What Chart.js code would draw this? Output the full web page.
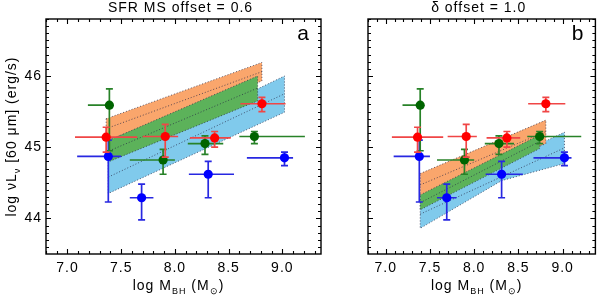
<!DOCTYPE html>
<html><head><meta charset="utf-8">
<script src="https://cdn.jsdelivr.net/npm/chart.js@4/dist/chart.umd.min.js"></script>
<style>
html,body{margin:0;padding:0;background:#fff;width:600px;height:296px;overflow:hidden}
canvas{position:absolute;top:0}
#ca{left:0}
#cb{left:300px}
</style></head><body>
<canvas id="ca" width="330" height="296"></canvas>
<canvas id="cb" width="300" height="296"></canvas>
<script>
// ---------------- data ----------------
const panelTitles = ['SFR MS offset = 0.6', 'δ offset = 1.0'];
const panelLetters = ['a', 'b'];
const xTicks = [7.0, 7.5, 8.0, 8.5, 9.0];
const yTicks = [44, 45, 46];

const redX    = [7.36, 7.91, 8.37, 8.81];
const redXmin = [7.07, 7.70, 8.14, 8.61];
const redXmax = [7.65, 8.03, 8.52, 9.03];
const redY    = [45.14, 45.15, 45.13, 45.61];
const redYmin = [44.93, 44.86, 45.00, 45.50];
const redYmax = [45.28, 45.32, 45.22, 45.70];

const greenX    = [7.39, 7.89, 8.28, 8.74];
const greenXmin = [7.19, 7.58, 8.12, 8.60];
const greenXmax = [7.42, 8.00, 8.45, 9.21];
const greenY    = [45.59, 44.82, 45.05, 45.15];
const greenYmin = [44.95, 44.62, 44.90, 45.05];
const greenYmax = [45.82, 44.97, 45.16, 45.22];

const blueX    = [7.38, 7.69, 8.31, 9.02];
const blueXmin = [7.09, 7.58, 8.13, 8.67];
const blueXmax = [7.50, 7.80, 8.55, 9.10];
const blueY    = [44.87, 44.29, 44.62, 44.85];
const blueYmin = [44.23, 43.98, 44.29, 44.74];
const blueYmax = [45.10, 44.48, 44.80, 44.93];

// panel a bands
const aOrangeUX = [7.36, 8.81], aOrangeUY = [45.40, 46.19];
const aOrangeLX = [7.36, 8.81], aOrangeLY = [45.09, 45.93];
const aOrangeMY = [45.26, 46.06];
const aGreenUX = [7.39, 8.77], aGreenUY = [45.10, 46.00];
const aGreenLX = [7.39, 8.77], aGreenLY = [44.80, 45.65];
const aGreenMY = [44.95, 45.83];
const aBlueUX = [7.38, 9.02], aBlueUY = [44.81, 46.00];
const aBlueLX = [7.38, 9.02], aBlueLY = [44.35, 45.49];
const aBlueMY = [44.58, 45.75];

// panel b bands
const bOrangeUX = [7.39, 8.81], bOrangeUY = [44.63, 45.38];
const bOrangeLX = [7.39, 8.81], bOrangeLY = [44.30, 45.05];
const bOrangeMY = [44.47, 45.22];
const bGreenUX = [7.39, 8.74], bGreenUY = [44.33, 45.17];
const bGreenLX = [7.39, 8.74], bGreenLY = [44.12, 44.98];
const bGreenMY = [44.22, 45.08];
const bBlueUX = [7.39, 9.02], bBlueUY = [44.26, 45.21];
const bBlueLX = [7.39, 8.31, 9.02], bBlueLY = [43.86, 44.53, 44.77];
const bBlueMY = [44.06, 44.99];

// ---------------- styling / building ----------------
const FONT = "'Liberation Sans', Arial, Helvetica, sans-serif";
const BAND_EDGE = 'rgba(40,40,70,0.75)';

function poly(ux, uy, lx, ly) {
  const pts = [];
  for (let i = 0; i < ux.length; i++) pts.push({x: ux[i], y: uy[i]});
  for (let i = lx.length - 1; i >= 0; i--) pts.push({x: lx[i], y: ly[i]});
  pts.push({x: ux[0], y: uy[0]});
  return pts;
}
function mid(ux, my) {
  return [{x: ux[0], y: my[0]}, {x: ux[ux.length - 1], y: my[my.length - 1]}];
}
function pts(xs, ys) { return xs.map((x, i) => ({x, y: ys[i]})); }

function bandDs(data, color, order) {
  return {type: 'line', data, order, fill: 'shape', backgroundColor: color,
    borderColor: BAND_EDGE, borderWidth: 1, borderDash: [1, 2], pointRadius: 0, tension: 0};
}
function midDs(data, order) {
  return {type: 'line', data, order, fill: false, borderColor: BAND_EDGE,
    borderWidth: 1, borderDash: [1, 2], pointRadius: 0, tension: 0};
}

const groups = {
  red:   {x: redX, xmin: redXmin, xmax: redXmax, y: redY, ymin: redYmin, ymax: redYmax, bar: 'rgb(240,70,70)', pt: 'rgb(255,0,0)'},
  green: {x: greenX, xmin: greenXmin, xmax: greenXmax, y: greenY, ymin: greenYmin, ymax: greenYmax, bar: 'rgb(40,130,40)', pt: 'rgb(0,100,0)'},
  blue:  {x: blueX, xmin: blueXmin, xmax: blueXmax, y: blueY, ymin: blueYmin, ymax: blueYmax, bar: 'rgb(40,40,225)', pt: 'rgb(0,0,255)'}
};
function pointDs(key, order) {
  const g = groups[key];
  return {type: 'scatter', data: pts(g.x, g.y), order, errKey: key, pointRadius: 4.6,
    pointBackgroundColor: g.pt, pointBorderWidth: 0, pointBorderColor: g.pt};
}

function drawRich(ctx, parts, x, y, size) {
  let w = 0;
  parts.forEach(p => {
    ctx.font = (p.sub ? Math.round(size * 0.62) : size) + 'px ' + FONT;
    p.w = ctx.measureText(p.t).width; w += p.w;
  });
  let cx = x - w / 2;
  parts.forEach(p => {
    ctx.font = (p.sub ? Math.round(size * 0.62) : size) + 'px ' + FONT;
    ctx.fillText(p.t, cx, y + (p.sub ? size * 0.3 : 0));
    cx += p.w;
  });
}

const decor = {
  id: 'decor',
  beforeDraw(chart) {
    chart.ctx.letterSpacing = '1px';
  },
  beforeDatasetDraw(chart, args) {
    const ds = chart.data.datasets[args.index];
    if (!ds.errKey) return;
    const g = groups[ds.errKey];
    const xs = chart.scales.x, ys = chart.scales.y, ctx = chart.ctx;
    const ca = chart.chartArea;
    ctx.save();
    ctx.beginPath(); ctx.rect(ca.left, ca.top, ca.right - ca.left, ca.bottom - ca.top); ctx.clip();
    ctx.strokeStyle = g.bar; ctx.lineWidth = 1.7;
    for (let i = 0; i < g.x.length; i++) {
      const px = xs.getPixelForValue(g.x[i]), py = ys.getPixelForValue(g.y[i]);
      const x0 = xs.getPixelForValue(g.xmin[i]), x1 = xs.getPixelForValue(g.xmax[i]);
      const y0 = ys.getPixelForValue(g.ymin[i]), y1 = ys.getPixelForValue(g.ymax[i]);
      ctx.beginPath();
      ctx.moveTo(x0, py); ctx.lineTo(x1, py);
      ctx.moveTo(px, y0); ctx.lineTo(px, y1);
      ctx.moveTo(px - 3.5, y0); ctx.lineTo(px + 3.5, y0);
      ctx.moveTo(px - 3.5, y1); ctx.lineTo(px + 3.5, y1);
      ctx.stroke();
    }
    ctx.restore();
  },
  afterDraw(chart, args, o) {
    const ctx = chart.ctx, ca = chart.chartArea;
    const xs = chart.scales.x, ys = chart.scales.y;
    ctx.save();
    ctx.letterSpacing = '1px';
    ctx.strokeStyle = '#000'; ctx.lineWidth = 1.4;
    ctx.strokeRect(ca.left, ca.top, ca.right - ca.left, ca.bottom - ca.top);
    ctx.lineWidth = 1.1;
    ctx.beginPath();
    for (let k = 68; k <= 94; k++) {
      const v = k / 10; if (v > xs.max) break;
      const p = Math.round(xs.getPixelForValue(v)) + 0.5;
      const L = (k % 5 === 0) ? 5 : 3;
      ctx.moveTo(p, ca.bottom); ctx.lineTo(p, ca.bottom - L);
      ctx.moveTo(p, ca.top); ctx.lineTo(p, ca.top + L);
    }
    for (let k = 436; k <= 468; k++) {
      const v = k / 10;
      const p = Math.round(ys.getPixelForValue(v)) + 0.5;
      const L = (k % 10 === 0) ? 5 : 3;
      ctx.moveTo(ca.left, p); ctx.lineTo(ca.left + L, p);
      ctx.moveTo(ca.right, p); ctx.lineTo(ca.right - L, p);
    }
    ctx.stroke();

    ctx.fillStyle = '#000';
    ctx.textAlign = 'center'; ctx.textBaseline = 'middle';
    ctx.font = '14px ' + FONT;
    const cx = (ca.left + ca.right) / 2;
    ctx.fillText(o.title, cx - 3, 8);
    ctx.textAlign = 'right'; ctx.textBaseline = 'alphabetic';
    ctx.letterSpacing = '0px';
    ctx.font = '21px ' + FONT;
    ctx.fillText(o.letter, ca.right - 12, 40);
    ctx.letterSpacing = '1px';

    ctx.textAlign = 'left'; ctx.textBaseline = 'alphabetic';
    drawRich(ctx, [{t: 'log M'}, {t: 'BH', sub: true}, {t: ' (M'}, {t: '⊙', sub: true}, {t: ')'}], cx - 5, 290, 14);
    if (o.ylabel) {
      ctx.save();
      ctx.translate(16, (ca.top + ca.bottom) / 2);
      ctx.rotate(-Math.PI / 2);
      drawRich(ctx, [{t: 'log νL'}, {t: 'ν', sub: true}, {t: ' [60 μm] (erg/s)'}], 0, 0, 14);
      ctx.restore();
    }
    ctx.restore();
  }
};

function makePanel(id, P) {
  return new Chart(document.getElementById(id), {
    type: 'scatter',
    data: {datasets: P.datasets},
    options: {
      responsive: false, animation: false, devicePixelRatio: 1,
      layout: {padding: P.padding},
      plugins: {legend: {display: false}, tooltip: {enabled: false}, decor: P.decor},
      scales: {
        x: {type: 'linear', min: 6.8, max: P.xmax,
            grid: {display: false, drawTicks: false}, border: {display: false},
            afterBuildTicks: s => { s.ticks = xTicks.map(v => ({value: v})); },
            afterFit: s => { s.height = 42; },
            ticks: {callback: v => Number(v).toFixed(1), font: {family: FONT, size: 14}, color: '#000',
                    padding: 6, maxRotation: 0, autoSkip: false}},
        y: {type: 'linear', min: 43.5, max: 46.8, display: P.showY,
            grid: {display: false, drawTicks: false}, border: {display: false},
            afterBuildTicks: s => { s.ticks = yTicks.map(v => ({value: v})); },
            afterFit: s => { s.width = 46; },
            ticks: {callback: v => String(v), font: {family: FONT, size: 14}, color: '#000', padding: 4}}
      }
    },
    plugins: [decor]
  });
}

const pointSets = () => [pointDs('red', 0), pointDs('green', 1), pointDs('blue', 2)];

makePanel('ca', {
  xmax: 9.36, showY: true,
  padding: {top: 19, right: 9, left: 0, bottom: 0},
  decor: {title: panelTitles[0], letter: panelLetters[0], ylabel: true},
  datasets: [
    bandDs(poly(aBlueUX, aBlueUY, aBlueLX, aBlueLY), 'rgb(128,202,236)', 30),
    midDs(mid(aBlueUX, aBlueMY), 29),
    bandDs(poly(aOrangeUX, aOrangeUY, aOrangeLX, aOrangeLY), 'rgb(250,166,108)', 20),
    midDs(mid(aOrangeUX, aOrangeMY), 19),
    bandDs(poly(aGreenUX, aGreenUY, aGreenLX, aGreenLY), 'rgb(92,178,90)', 10),
    midDs(mid(aGreenUX, aGreenMY), 9),
    ...pointSets()
  ]
});

makePanel('cb', {
  xmax: 9.37, showY: false,
  padding: {top: 19, right: 3, left: 22, bottom: 0},
  decor: {title: panelTitles[1], letter: panelLetters[1], ylabel: false},
  datasets: [
    bandDs(poly(bBlueUX, bBlueUY, bBlueLX, bBlueLY), 'rgb(128,202,236)', 30),
    midDs(mid(bBlueUX, bBlueMY), 29),
    bandDs(poly(bOrangeUX, bOrangeUY, bOrangeLX, bOrangeLY), 'rgb(250,166,108)', 20),
    midDs(mid(bOrangeUX, bOrangeMY), 19),
    bandDs(poly(bGreenUX, bGreenUY, bGreenLX, bGreenLY), 'rgb(92,178,90)', 10),
    midDs(mid(bGreenUX, bGreenMY), 9),
    ...pointSets()
  ]
});
</script>
</body></html>
